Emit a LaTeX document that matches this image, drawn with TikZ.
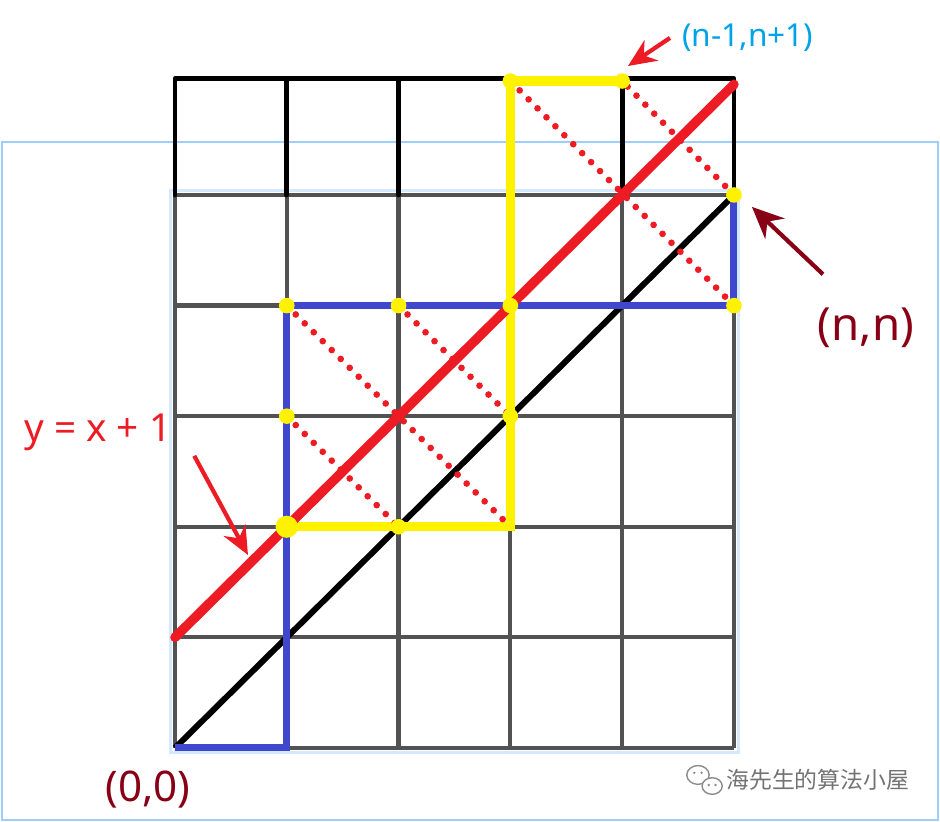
\documentclass[tikz,border=0pt]{standalone}
\usepackage{fontspec}
\setmainfont{Noto Sans}
\newfontfamily\cjkfont{Noto Sans CJK SC}
\usepackage{xcolor}
\usepackage{tikz}
\usetikzlibrary{arrows.meta}

\definecolor{pathred}{RGB}{237,28,36}
\definecolor{pathblue}{RGB}{63,72,204}
\definecolor{pathyellow}{RGB}{255,242,0}
\definecolor{darkred}{RGB}{136,0,21}
\definecolor{labelcyan}{RGB}{0,162,232}
\definecolor{frameblue}{RGB}{160,205,250}

\begin{document}
\begin{tikzpicture}[x=1.118cm, y=1.106cm,
    gridline/.style={line width=1.2pt, black!68},
    toprow/.style={line width=1.4pt, black, line cap=round, line join=round},
    glow/.style={line width=1pt, frameblue!45},
    reflect/.style={pathred, line width=1.9pt, line cap=round, dash pattern=on 0pt off 3.6pt},
    pointer/.style={line width=1.2pt, -{Stealth[length=8pt,width=7pt]}}]

    \useasboundingbox (-1.565,-0.669) rectangle (6.843,6.763);

    % Draw outer frame
    \draw[frameblue, line width=0.8pt] (-1.547,-0.651) rectangle (6.825,5.479);

    % Draw grid
    \foreach \i in {0,...,5} {
        \draw[gridline] (\i,0) -- (\i,5);
        \draw[gridline] (0,\i) -- (5,\i);
    }
    \draw[glow] (-0.04,-0.04) rectangle (5.04,5.04);

    % Draw top row
    \draw[toprow] (0,5) -- (0,6.05) -- (5,6.05) -- (5,5);
    \foreach \i in {1,...,4}
        \draw[toprow] (\i,5) -- (\i,6.05);

    % Draw points
    \coordinate (o) at (0,0);
    \coordinate (nn) at (5,5);
    \coordinate (touch) at (1,2);
    \coordinate (top) at (4,6.03);

    % Draw diagonal y = x
    \draw[line width=1.7pt] (o) -- (nn);

    % Draw paths
    \draw[pathblue, line width=2pt] (o) -- (1,0) -- (1,4) -- (5,4) -- (nn);
    \draw[pathyellow, line width=2.6pt] (touch) -- (3,2) -- (3,6.03) -- (top);

    % Draw reflections
    \draw[reflect] (1,4) -- (3,2);
    \draw[reflect] (1,3) -- (2,2);
    \draw[reflect] (2,4) -- (3,3);
    \draw[reflect] (5,4) -- (3,6.03);
    \draw[reflect] (nn) -- (top);

    % Draw line y = x + 1
    \draw[pathred, line width=2.7pt, line cap=round] (0,1) -- (5,6);

    % Draw marks
    \foreach \x/\y in {1/4,2/4,1/3,2/2,3/4,3/3,3/6.03,4/6.03,5/5,5/4}
        \fill[pathyellow] (\x,\y) circle (0.07);
    \fill[pathyellow] (touch) circle (0.1);

    % Draw labels
    \node[labelcyan, font=\fontsize{9}{11}\selectfont] (lblTop) at (5.125,6.42) {(n-1,n+1)};
    \coordinate (tipTop) at (4.052,6.166);
    \draw[pointer, pathred] (lblTop.west) -- (tipTop);

    \node[darkred, font=\fontsize{13}{15}\selectfont] (lblNn) at (6.18,3.80) {(n,n)};
    \coordinate (tipNn) at (5.161,4.892);
    \draw[pointer, darkred, -{Stealth[length=9pt,width=8pt]}] ([xshift=5pt,yshift=6pt]lblNn.north west) -- (tipNn);

    \node[pathred, font=\fontsize{11}{13}\selectfont] (lblLine) at (-0.689,2.857) {y = x + 1};
    \coordinate (tipLine) at (0.653,1.745);
    \draw[pointer, pathred] ([xshift=3pt,yshift=2pt]lblLine.south east) -- (tipLine);

    \node[darkred, font=\fontsize{12}{14}\selectfont] (lblO) at (-0.242,-0.38) {(0,0)};

    % Draw watermark
    \draw[black!45, line width=0.4pt, fill=white] (4.678,-0.244) ellipse (0.1 and 0.085);
    \draw[black!45, line width=0.4pt, fill=white] (4.805,-0.344) ellipse (0.09 and 0.075);
    \foreach \x/\y in {4.645/-0.225,4.71/-0.225,4.775/-0.335,4.835/-0.335}
        \fill[black!45] (\x,\y) circle (0.012);
    \node[black!55, font=\cjkfont\fontsize{6.5}{8}\selectfont] (mark) at (5.75,-0.29) {海先生的算法小屋};
\end{tikzpicture}
\end{document}
